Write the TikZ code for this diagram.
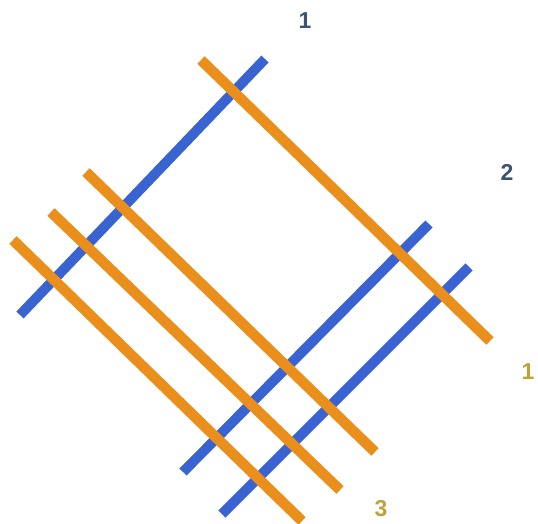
\documentclass[tikz,border=0pt]{standalone}
\usepackage{fontspec}
\setmainfont{Liberation Sans}
\definecolor{barblue}{HTML}{3A63D2}
\definecolor{barorange}{HTML}{EA8E1C}
\definecolor{labblue}{HTML}{3E5276}
\definecolor{labgold}{HTML}{BFA23A}
\tikzset{
  bluebar/.style={draw=barblue,line width=10pt},
  orangebar/.style={draw=barorange,line width=10.5pt},
  lab/.style={font=\fontsize{23}{23}\selectfont\bfseries,inner sep=0pt}
}
\begin{document}
\begin{tikzpicture}[x=1pt,y=-1pt]
\useasboundingbox (0,0) rectangle (538,524);
\clip (0,0) rectangle (538,524);
% blue bars
\coordinate (b1s) at (20,315);
\coordinate (b1e) at (265,59);
\coordinate (b2s) at (183,472);
\coordinate (b2e) at (429,224);
\coordinate (b3s) at (222,514);
\coordinate (b3e) at (469,267);
\draw[bluebar] (b1s) -- (b1e);
\draw[bluebar] (b2s) -- (b2e);
\draw[bluebar] (b3s) -- (b3e);
% orange bars
\coordinate (o1s) at (201,60);
\coordinate (o1e) at (490,341);
\coordinate (o2s) at (86,172);
\coordinate (o2e) at (375,452);
\coordinate (o3s) at (51,212);
\coordinate (o3e) at (340,490);
\coordinate (o4s) at (13,240);
\coordinate (o4e) at (302,521);
\draw[orangebar] (o1s) -- (o1e);
\draw[orangebar] (o2s) -- (o2e);
\draw[orangebar] (o3s) -- (o3e);
\draw[orangebar] (o4s) -- (o4e);
% labels
\node[lab,text=labblue] (l1) at (305,21) {1};
\node[lab,text=labblue] (l2) at (507,172) {2};
\node[lab,text=labgold] (l3) at (528,372) {1};
\node[lab,text=labgold] (l4) at (381,509) {3};
\end{tikzpicture}
\end{document}
